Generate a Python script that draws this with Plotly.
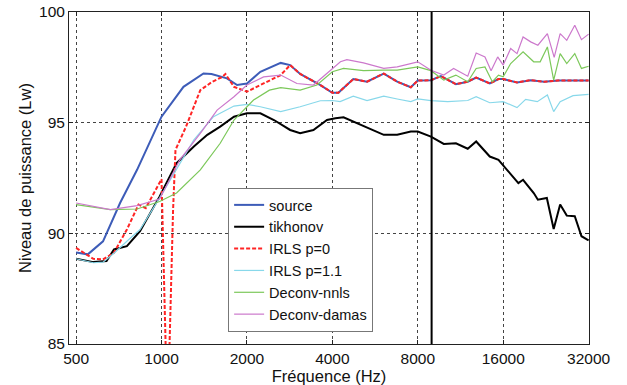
import math
import plotly.graph_objects as go

# ---------------- data ----------------
source_freq = [500, 550, 622, 715, 820, 1000, 1195, 1406, 1500, 1700, 1847, 2000, 2230, 2630, 2840,
               3080, 3630, 4000, 4200, 4740, 5300, 6070, 6770, 7560, 8000, 8900, 9650, 10900,
               12000, 12850, 14350, 15400, 16000, 17900, 20000, 22300, 25000, 28000, 32000]
source_val = [89.13, 89.05, 89.64, 91.38, 92.87, 95.27, 96.62, 97.22, 97.2, 97.0, 96.7, 96.77, 97.3, 97.7, 97.6,
              97.2, 96.7, 96.35, 96.35, 96.97, 96.85, 97.22, 96.85, 96.6, 96.9, 96.92, 97.1, 96.74,
              96.85, 97.04, 96.77, 96.97, 96.97, 96.82, 96.92, 96.85, 96.9, 96.9, 96.9]

tikhonov_freq = [500, 575, 640, 680, 755, 840, 985, 1130, 1300, 1450, 1610, 1800, 2000, 2230, 2490,
                 2840, 3080, 3430, 3830, 4100, 4380, 4740, 5150, 6070, 6770, 7560, 8000, 8900, 9880,
                 10900, 12000, 12850, 14350, 15400, 16500, 18100, 18800, 20500, 21200, 22800, 24100,
                 25400, 26800, 28600, 30200, 32000]
tikhonov_val = [88.85, 88.7, 88.75, 89.27, 89.42, 90.1, 91.67, 93.17, 93.92, 94.45, 94.82, 95.27, 95.42,
                95.42, 95.12, 94.67, 94.52, 94.67, 95.12, 95.2, 95.24, 95.05, 94.82, 94.45, 94.45, 94.6,
                94.6, 94.37, 94.04, 94.07, 93.82, 94.15, 93.47, 93.32, 92.87, 92.27, 92.42, 91.82, 91.52,
                91.6, 90.2, 91.3, 90.8, 90.77, 89.87, 89.68]

irls0_freq = [500, 575, 622, 680, 755, 830, 880, 1000, 1050, 1098, 1120, 1220, 1370, 1510,
              1640, 1680, 1800, 2000, 2230, 2630, 2840, 3080, 3630, 4000, 4200, 4740, 5300, 6070,
              6770, 7560, 8000, 8900, 9650, 10900, 12000, 12850, 14350, 15400, 16000, 17900, 20000,
              22300, 25000, 28000, 32000]
irls0_val = [89.34, 88.85, 88.82, 89.12, 90.17, 91.3, 91.14, 92.45, 81.5, 91.0, 93.77, 94.82,
             96.47, 96.85, 97.07, 97.2, 96.62, 96.4, 96.7, 97.15, 97.6, 97.2, 96.7, 96.35, 96.35,
             96.97, 96.85, 97.22, 96.85, 96.6, 96.9, 96.92, 97.1, 96.74, 96.85, 97.04, 96.77, 96.97,
             96.97, 96.82, 96.92, 96.85, 96.9, 96.9, 96.9]

irls11_freq = [500, 575, 622, 680, 755, 840, 985, 1130, 1300, 1525, 1800, 2000, 2230, 2630, 3080, 3630,
               4000, 4260, 4740, 5300, 6070, 6770, 7560, 8000, 8900, 10200, 12000, 12850, 14350,
               16000, 17900, 19200, 21100, 22900, 24100, 25400, 28200, 32000]
irls11_val = [88.85, 88.67, 88.7, 89.1, 89.64, 90.17, 91.6, 92.87, 94.22, 95.27, 95.75, 95.83, 95.72,
              95.5, 95.72, 95.99, 96.0, 95.95, 96.2, 96.0, 96.2, 96.07, 95.95, 96.07, 96.0, 95.95,
              96.0, 96.17, 95.9, 95.95, 95.68, 96.05, 95.95, 96.25, 95.5, 95.95, 96.22, 96.28]

nnls_freq = [500, 660, 820, 985, 1130, 1370, 1610, 1800, 2110, 2400, 2630, 3080, 3530, 4000, 4380,
             5150, 6070, 6770, 8000, 8900, 9880, 10900, 12000, 12850, 13800, 14650, 15400, 16000,
             17000, 18800, 20500, 21600, 22900, 24100, 25400, 26800, 28600, 30200, 32000]
nnls_val = [91.3, 91.07, 91.1, 91.44, 91.82, 92.87, 94.07, 95.12, 96.02, 96.47, 96.58, 96.47, 96.7,
            97.3, 97.45, 97.35, 97.37, 97.37, 97.52, 97.35, 96.92, 97.15, 96.85, 97.45, 97.52, 96.85,
            97.15, 97.07, 97.67, 98.2, 97.75, 97.75, 98.42, 96.92, 98.12, 97.67, 98.12, 97.45, 97.55]

damas_freq = [500, 660, 820, 985, 1160, 1370, 1570, 1800, 2000, 2290, 2630, 3000, 3430, 3830, 4270,
              4500, 5150, 6070, 6770, 8000, 8900, 9880, 10700, 12000, 12850, 13800, 14500, 15300,
              16000, 17000, 17900, 18800, 20000, 21200, 22900, 24200, 25400, 26800, 28600, 30200, 32000]
damas_val = [91.37, 91.07, 91.25, 91.55, 93.32, 94.52, 95.57, 96.17, 96.7, 97.07, 97.15, 96.77, 96.7,
             97.22, 97.75, 97.85, 97.7, 97.45, 97.52, 97.75, 97.37, 97.15, 97.45, 97.1, 98.15, 97.97,
             97.35, 97.97, 97.6, 98.35, 98.12, 98.87, 98.65, 98.5, 99.02, 97.95, 99.02, 98.72, 99.4,
             98.75, 99.0]

cutoff_freq = 8950
x_ticks = [500, 1000, 2000, 4000, 8000, 16000, 32000]
y_ticks = [85, 90, 95, 100]
x_limits = [472, 32100]
y_limits = [85, 100]

series_names = ["source", "tikhonov", "IRLS p=0", "IRLS p=1.1", "Deconv-nnls", "Deconv-damas"]

# ---------------- figure ----------------
FONT = "Liberation Sans, Arial, sans-serif"
fig = go.Figure()

styles = [
    (source_freq, source_val, dict(color="#3d5cb8", width=2)),
    (tikhonov_freq, tikhonov_val, dict(color="#000000", width=2)),
    (irls0_freq, irls0_val, dict(color="#ff2424", width=2, dash="4px,2px")),
    (irls11_freq, irls11_val, dict(color="#88d8ea", width=1.2)),
    (nnls_freq, nnls_val, dict(color="#7cc85a", width=1.2)),
    (damas_freq, damas_val, dict(color="#cc78cc", width=1.2)),
]
for name, (fx, fy, ln) in zip(series_names, styles):
    fig.add_trace(go.Scatter(x=fx, y=fy, mode="lines", name=name, line=ln))

fig.add_trace(go.Scatter(x=[cutoff_freq, cutoff_freq], y=y_limits, mode="lines",
                         line=dict(color="#000000", width=2), showlegend=False, hoverinfo="skip"))

axis_common = dict(
    showline=True, linecolor="#222222", linewidth=1, mirror="ticks",
    ticks="inside", ticklen=4, tickcolor="#222222",
    showgrid=True, gridcolor="#444444", gridwidth=1, griddash="dot",
    zeroline=False, automargin=False,
    tickfont=dict(family=FONT, size=15.5, color="#111111"),
)

fig.update_xaxes(type="log", range=[math.log10(x_limits[0]), math.log10(x_limits[1])],
                 tickvals=x_ticks, ticktext=[str(v) for v in x_ticks],
                 title=dict(text="Fréquence (Hz)", font=dict(family=FONT, size=16.5, color="#111111"),
                            standoff=2),
                 **axis_common)
fig.update_yaxes(range=y_limits, tickvals=y_ticks,
                 title=dict(text="Niveau de puissance (Lw)", font=dict(family=FONT, size=16.5, color="#111111"),
                            standoff=3),
                 **axis_common)

fig.update_layout(
    template="none",
    width=627, height=385,
    margin=dict(l=69, r=38, t=12, b=41, autoexpand=False),
    paper_bgcolor="white", plot_bgcolor="white",
    legend=dict(x=0.306, y=0.47, xanchor="left", yanchor="top",
                bgcolor="white", bordercolor="#777777", borderwidth=1,
                font=dict(family=FONT, size=14.5, color="#111111"),
                tracegroupgap=0),
    showlegend=True,
)

fig.write_html("out.html", config={"displayModeBar": False},
               post_script="document.body.style.margin='0';document.body.style.overflow='hidden';")
